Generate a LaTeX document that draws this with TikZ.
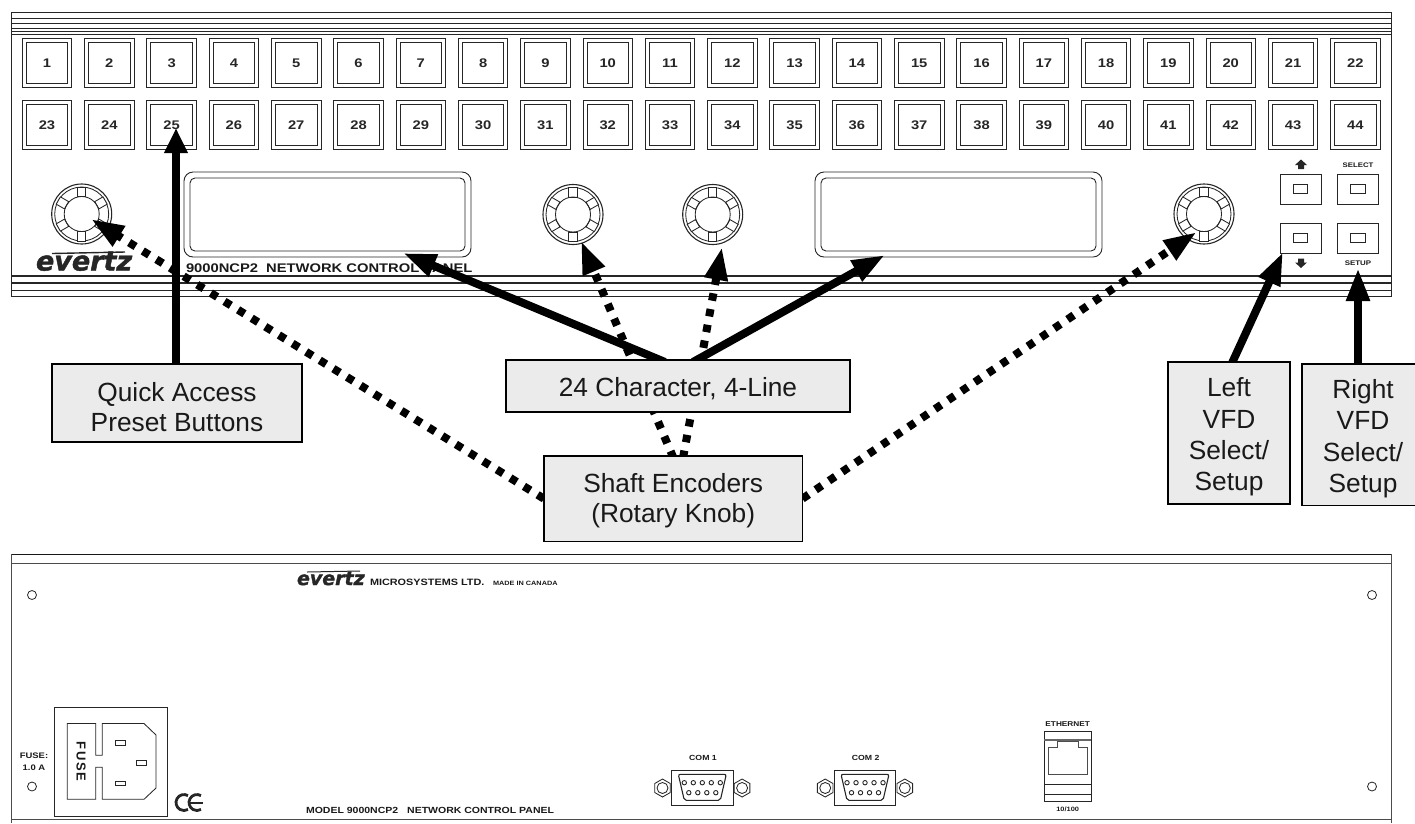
\documentclass[tikz,border=0pt]{standalone}
\usepackage{fontspec}
\setmainfont{Liberation Sans}
\newfontfamily\wb[FakeStretch=1.18]{Liberation Sans}
\newfontfamily\logof[BoldItalicFeatures={FakeBold=1.6}]{DejaVu Sans}
\usetikzlibrary{arrows.meta}
\pgfdeclarelayer{panel}\pgfdeclarelayer{conn}
\pgfsetlayers{panel,conn,main}
\newcommand{\fs}[1]{\fontsize{#1}{#1}\selectfont}
\newcommand{\fl}[1]{\rule{0pt}{#1pt}}
\newcommand{\knobdraw}[3]{%
  \begin{scope}[shift={(#2,#3)},ink]
    \node[circle,minimum size=60,inner sep=0,draw,line width=1.1pt] (#1) at (0,0) {};
    \draw (0,0) circle (27);
    \foreach \ang in {90,30,-30,-90,-150,150}{
      \draw[rotate=\ang,fill=white] (17.5,-4.2) rectangle (27,4.2);
    }
    \draw (0,0) circle (17.5);
  \end{scope}}
\newcommand{\comport}[3]{%
  \begin{scope}[shift={(#1,#2)},ink]
    \node[anchor=center,txt,font=\wb\bfseries\fs{7.4}] (com#3) at (0.7,-30) {COM #3};
    \draw (-30.7,-17.3) rectangle (30.7,17.2);
    \draw[line width=1.1pt,rounded corners=2] (-24,-13.7) -- (24,-13.7) -- (18,12.3) -- (-18,12.3) -- cycle;
    \foreach \p in {-18,-9,0,9,18}{\draw[line width=.9pt] (\p,-5.3) circle (2.2);}
    \foreach \p in {-13.5,-4.5,4.5,13.5}{\draw[line width=.9pt] (\p,4.7) circle (2.2);}
    \foreach \s in {-1,1}{
      \begin{scope}[shift={(\s*39.8,0)}]
      \draw (90:9) -- (30:9) -- (-30:9) -- (-90:9) -- (-150:9) -- (150:9) -- cycle;
      \draw (0,0) circle (5.5);
      \end{scope}}
  \end{scope}}
\tikzset{
  x=1pt,y=-1pt,
  ink/.style={line width=.85pt,draw=black!85},
  txt/.style={inner sep=0,outer sep=0,text=black!90},
  btn/.style={draw=black!85,line width=.85pt,minimum size=49.5,inner sep=0,outer sep=0,font=\wb\bfseries\fs{12.5},text=black!85},
  btninner/.style={draw=black!85,line width=.85pt,minimum size=41.5,inner sep=0,outer sep=0},
  callout/.style={draw=black,line width=1.6pt,fill=black!8,inner sep=0,outer sep=0,align=center,font=\fontsize{26.3}{30.2}\selectfont,text=black!90},
  tallcallout/.style={callout,font=\fontsize{26.3}{31.2}\selectfont},
  solidarrow/.style={line width=8pt,-{Triangle[length=33pt,width=22pt]},draw=black},
  dotarrow/.style={line width=8pt,dash pattern=on 7.5pt off 8.5pt,-{Triangle[length=33pt,width=22pt]},draw=black},
  softkey/.style={draw=black!85,line width=.85pt,inner sep=0,outer sep=0,minimum width=41,minimum height=30},
  softlamp/.style={draw=black!85,line width=1pt,inner sep=0,outer sep=0,minimum width=14.5,minimum height=9.5},
  hole/.style={circle,draw=black!85,line width=.8pt,inner sep=0,minimum size=9}
}
\begin{document}
\begin{tikzpicture}
\useasboundingbox (0,0) rectangle (1415,823);

% ---- callouts
\node[callout,minimum width=250.5,minimum height=78] (qa) at (177,403) {\fl{27}Quick Access\\Preset Buttons};
\node[callout,minimum width=344.5,minimum height=52] (chars) at (678,386) {\fl{24}24 Character, 4-Line};
\node[callout,minimum width=258.5,minimum height=85.5] (shaft) at (673.2,498.7) {\fl{23}Shaft Encoders\\(Rotary Knob)};
\node[tallcallout,minimum width=122,minimum height=142] (lvfd) at (1229,433) {\fl{27}Left\\VFD\\Select/\\Setup};
\node[tallcallout,minimum width=122,minimum height=141.5] (rvfd) at (1363,434.7) {\fl{27}Right\\VFD\\Select/\\Setup};

% ---- arrow ends
\coordinate (tqa) at (176,128);
\coordinate (tk1) at (91,219);
\coordinate (tk2) at (581,241);
\coordinate (tk3) at (722,247);
\coordinate (tk4) at (1196.7,232);
\coordinate (td1) at (403,253);
\coordinate (td2) at (885,255);
\coordinate (tl) at (1283,252);
\coordinate (tr) at (1358,268);
\coordinate (s1) at (665,362);
\coordinate (s2) at (693,362);
\coordinate (s3) at (673.5,458);
\coordinate (s4) at (683,458);
\coordinate (s5) at (1232,363);

\begin{pgfonlayer}{conn}
\draw[solidarrow,-{Triangle[length=25pt,width=22pt]}] (qa.north -| tqa) -- (tqa);
\draw[solidarrow] (s1) -- (td1);
\draw[solidarrow] (s2) -- (td2);
\draw[solidarrow] (s5) -- (tl);
\draw[solidarrow] (rvfd.north -| tr) -- (tr);
\draw[dotarrow] (shaft.west) -- (tk1);
\draw[dotarrow] (shaft.east) -- (tk4);
\draw[dotarrow] (s3) -- (tk2);
\draw[dotarrow] (s4) -- (tk3);
\end{pgfonlayer}

\begin{pgfonlayer}{panel}
% ---- front panel
\draw[line width=.9pt,draw=black!85] (11.5,12) rectangle (1391,296);
\foreach \y/\w in {18/.7,23.5/1.1,28/.9,31/.7,34/1,276/1.1,283/1.6,290/.7}{
  \draw[line width=\w pt,draw=black!85] (11.5,\y) -- (1391,\y);
}
\foreach \n [evaluate=\n as \bx using {47+(\n-1)*62.3}] in {1,...,22}{
  \node[btninner] (i\n) at (\bx,63) {};
  \node[btn] (b\n) at (\bx,63) {\n};
}
\foreach \n [evaluate=\n as \bx using {47+(\n-23)*62.3}] in {23,...,44}{
  \node[btninner] (i\n) at (\bx,125) {};
  \node[btn] (b\n) at (\bx,125) {\n};
}
\knobdraw{k1}{81.7}{214}
\knobdraw{k2}{573}{214.5}
\knobdraw{k3}{712.7}{214.5}
\knobdraw{k4}{1204}{214}
\foreach \xa/\nm in {184/d1,815/d2}{
  \draw[line width=.9pt,draw=black!85,rounded corners=9] (\xa,172) rectangle ++(287,85);
  \draw[line width=.9pt,draw=black!85,rounded corners=5] (\xa+6,178) rectangle ++(275,73);
}
\node[softkey] (ku) at (1300.5,189) {};
\node[softkey] (ks) at (1358,189) {};
\node[softkey] (kd) at (1300.5,238) {};
\node[softkey] (kp) at (1358,238) {};
\node[softlamp] at (ku) {};
\node[softlamp] at (ks) {};
\node[softlamp] at (kd) {};
\node[softlamp] at (kp) {};
\fill[black!85] (1301,159.5) -- (1307,165) -- (1304,165) -- (1304,169) -- (1298,169) -- (1298,165) -- (1295,165) -- cycle;
\fill[black!85] (1301,268) -- (1307,262.5) -- (1304,262.5) -- (1304,258.5) -- (1298,258.5) -- (1298,262.5) -- (1295,262.5) -- cycle;
\node[txt,font=\wb\bfseries\fs{6.6}] (sel) at (1358,165) {SELECT};
\node[txt,font=\wb\bfseries\fs{6.7}] (set) at (1358,263) {SETUP};
\node[txt,font=\logof\bfseries\itshape\fs{27},text=black!85,anchor=base west] (logo) at (36,270.5) {evertz};
\draw[line width=1.4pt,black!85] (52,253.5) -- (125,252);
\node[txt,font=\wb\bfseries\fs{12.5},anchor=base west] (ncp) at (186,272) {9000NCP2\hspace{8pt}NETWORK CONTROL PANEL};

% ---- rear panel
\draw[line width=.9pt,draw=black!90] (11.5,554) -- (1391,554);
\draw[line width=.9pt,draw=black!70] (11.5,563) -- (1391,563);
\draw[line width=.9pt,draw=black!70] (11.5,554) -- (11.5,823);
\draw[line width=.9pt,draw=black!70] (1391,554) -- (1391,823);
\draw[line width=1pt,draw=black!70] (11.5,819) -- (1391,819);
\node[hole] (h1) at (32,595) {};
\node[hole] (h2) at (1372,595) {};
\node[hole] (h3) at (32,786.5) {};
\node[hole] (h4) at (1372,786.5) {};
\node[txt,font=\logof\bfseries\itshape\fs{19},text=black!85,anchor=base west] (logo2) at (297,585) {evertz};
\draw[line width=1pt,black!85] (307,572) -- (360,571);
\node[txt,font=\wb\bfseries\fs{9.2},anchor=base west] (msys) at (370,585) {MICROSYSTEMS LTD.};
\node[txt,font=\wb\bfseries\fs{6.2},anchor=base west] (made) at (493,585) {MADE IN CANADA};
\node[txt,font=\wb\bfseries\fontsize{8}{12}\selectfont,align=center] (fuse) at (34,761.5) {FUSE:\\1.0 A};
\draw[ink] (54,707) rectangle (167,816);
\draw[ink] (67.3,723.5) -- (95.7,723.5) -- (95.7,755.3) -- (102.3,755.3) -- (102.3,723.5) -- (144,723.5) -- (156,735) -- (156,788) -- (144,799.3) -- (102.3,799.3) -- (102.3,767.3) -- (95.7,767.3) -- (95.7,799.3) -- (67.3,799.3) -- cycle;
\draw[ink] (115,740.7) rectangle (125.7,745);
\draw[ink] (136,760) rectangle (146.7,765);
\draw[ink] (115,781) rectangle (125.7,785);
\node[txt,font=\bfseries\fs{13},rotate=-90] (fusetxt) at (81,761.5) {F\hspace{1.7pt}U\hspace{1.7pt}S\hspace{1.7pt}E};
\draw[line width=2.8pt,black!85] (188,795.6) arc (300:60:8);
\draw[line width=2.8pt,black!85] (201,795.6) arc (300:60:8);
\draw[line width=2pt,black!85] (190,802.5) -- (203,802.5);
\node[txt,font=\wb\bfseries\fs{8.9},anchor=base west] (model) at (306,813.5) {MODEL 9000NCP2\hspace{9pt}NETWORK CONTROL PANEL};
\comport{702.3}{788}{1}
\comport{865}{788}{2}
\node[txt,font=\wb\bfseries\fs{7}] (eth) at (1067.7,724) {ETHERNET};
\draw[ink] (1044.3,731) rectangle (1091.3,801);
\draw[line width=1.4pt,draw=black!60] (1044.3,740) -- (1091.3,740);
\draw[ink] (1044.3,784.7) -- (1091.3,784.7);
\draw[ink] (1044.3,794.3) -- (1091.3,794.3);
\draw[line width=.9pt,draw=black!70] (1048.3,747.3) -- (1057.3,747.3) -- (1057.3,741) -- (1078.3,741) -- (1078.3,747.3) -- (1087.3,747.3) -- (1087.3,774.3) -- (1048.3,774.3) -- cycle;
\node[txt,font=\wb\bfseries\fs{6.3}] (ten) at (1067.7,809) {10/100};
\end{pgfonlayer}
\end{tikzpicture}
\end{document}
